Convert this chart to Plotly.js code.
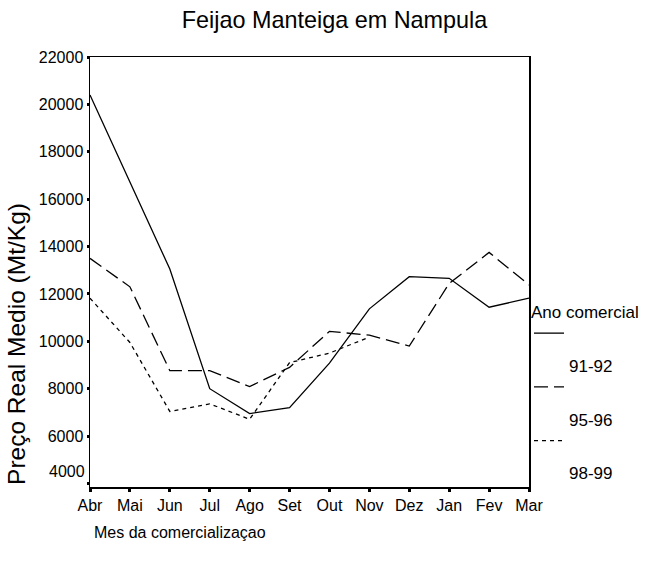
<!DOCTYPE html>
<html>
<head>
<meta charset="utf-8">
<script src="https://cdn.plot.ly/plotly-3.0.1.min.js"></script>
<style>html,body{margin:0;padding:0;background:#fff;}#chart{width:645px;height:569px;}</style>
</head>
<body>
<div id="chart"></div>
<script>
const months = ["Abr","Mai","Jun","Jul","Ago","Set","Out","Nov","Dez","Jan","Fev","Mar"];
const seriesNames = ["91-92","95-96","98-99"];
const ano9192 = [20400,16700,13050,8000,6950,7200,9080,11370,12730,12660,11440,11820];
const ano9596 = [13500,12300,8760,8760,8090,8900,10420,10260,9800,12440,13750,12380];
const ano9899 = [11820,9950,7040,7360,6710,9100,9500,10180,null,null,null,null];
const yTicks = [4000,6000,8000,10000,12000,14000,16000,18000,20000,22000];

const FONT = "Liberation Sans, Arial, sans-serif";
const dashes = ["solid","14px,6px","4px,4px"];
const values = [ano9192, ano9596, ano9899];

const traces = values.map((v,i)=>({
  type:"scatter", mode:"lines", x:months, y:v,
  name:"&nbsp;<br>&nbsp;<br><span style='font-size:17px'>"+seriesNames[i]+"</span>",
  line:{color:"#000", width:1.3, dash:dashes[i]}, connectgaps:false, hoverinfo:"skip"
}));

const layout = {
  width:645, height:569,
  margin:{l:90, r:116, t:57, b:82, autoexpand:false},
  paper_bgcolor:"#fff", plot_bgcolor:"#fff",
  font:{family:FONT, size:16, color:"#000"},
  title:{text:"Feijao Manteiga em Nampula", font:{family:FONT, size:23.4, color:"#000"}, x:0.5186, xanchor:"center", y:0.965, yanchor:"middle"},
  showlegend:true,
  legend:{x:1.0, xanchor:"left", y:0.444, yanchor:"top", valign:"top",
    title:{text:"Ano comercial", font:{family:FONT, size:17}},
    font:{family:FONT, size:13}, tracegroupgap:0, itemwidth:30, bgcolor:"rgba(0,0,0,0)"},
  xaxis:{type:"category", categoryorder:"array", categoryarray:months, range:[0,11],
    showline:true, linecolor:"#000", linewidth:1.5, mirror:true,
    ticks:"outside", ticklen:3, tickwidth:3, tickcolor:"#000",
    showgrid:false, zeroline:false, tickfont:{family:FONT, size:16}},
  yaxis:{range:[3850,22000], tickvals:yTicks, ticktext:yTicks.map(v=>v===4000?"":String(v)),
    showline:true, linecolor:"#000", linewidth:1.5, mirror:true,
    ticks:"outside", ticklen:2, tickwidth:3, tickcolor:"#000",
    showgrid:false, zeroline:false, tickfont:{family:FONT, size:16}},
  annotations:[
    {text:String(yTicks[0]), xref:"paper", yref:"paper", x:0, y:0.035, xanchor:"right", yanchor:"middle", xshift:-3, showarrow:false, font:{family:FONT, size:16}},
    {text:"Mes da comercializaçao", xref:"paper", yref:"paper", x:0.004, y:-0.105, xanchor:"left", yanchor:"middle", showarrow:false, font:{family:FONT, size:16}},
    {text:"Preço Real Medio (Mt/Kg)", xref:"paper", yref:"paper", x:-0.166, y:0.333, textangle:-90, xanchor:"center", yanchor:"middle", showarrow:false, font:{family:FONT, size:24.5}}
  ]
};

Plotly.newPlot("chart", traces, layout, {displayModeBar:false, staticPlot:true});
</script>
</body>
</html>
